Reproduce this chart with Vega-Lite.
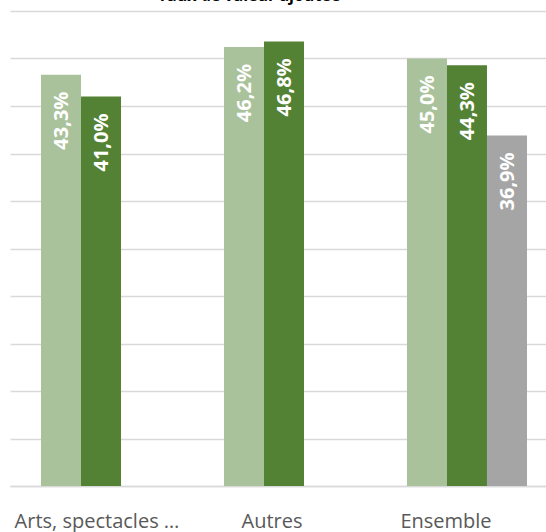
{
  "$schema": "https://vega.github.io/schema/vega-lite/v6.json",
  "width": 536,
  "height": 475,
  "autosize": {"type": "none"},
  "padding": {"left": 10, "top": 11, "right": 0, "bottom": 46},
  "title": {"text": "Taux de valeur ajoutée", "font": "Open Sans", "fontSize": 16, "fontWeight": "bold", "color": "#000000", "offset": 7, "anchor": "middle", "dx": -29},
  "config": {
    "view": {"stroke": null},
    "locale": {"number": {"decimal": ",", "thousands": " ", "grouping": [3], "currency": ["", " €"]}}
  },
  "data": {"values": [
    {"cat": "Arts, spectacles …", "s": "A", "v": 0.433},
    {"cat": "Arts, spectacles …", "s": "B", "v": 0.410},
    {"cat": "Autres", "s": "A", "v": 0.462},
    {"cat": "Autres", "s": "B", "v": 0.468},
    {"cat": "Ensemble", "s": "A", "v": 0.450},
    {"cat": "Ensemble", "s": "B", "v": 0.443},
    {"cat": "Ensemble", "s": "C", "v": 0.369}
  ]},
  "encoding": {
    "x": {"field": "cat", "type": "nominal", "sort": null,
      "scale": {"paddingInner": 0.344, "paddingOuter": 0.1366, "align": 0.62},
      "axis": {"title": null, "labelAngle": 0, "ticks": false, "domain": true, "domainColor": "#D9D9D9", "domainWidth": 1.3,
        "labelFont": "Open Sans", "labelFontSize": 20, "labelColor": "#595959", "labelPadding": 25,
        "labelOffset": {"condition": [{"test": "datum.value === 'Ensemble'", "value": -21}, {"test": "datum.value === 'Autres'", "value": -12}], "value": -4}}},
    "xOffset": {"field": "s", "type": "nominal", "scale": {"domain": ["A", "B", "C"]}},
    "y": {"field": "v", "type": "quantitative",
      "scale": {"domain": [0, 0.5], "nice": false},
      "axis": {"title": null, "labels": false, "ticks": false, "domain": false, "grid": true, "gridColor": "#D9D9D9", "gridWidth": 1.3,
        "values": [0, 0.05, 0.1, 0.15, 0.2, 0.25, 0.3, 0.35, 0.4, 0.45, 0.5]}}
  },
  "layer": [
    {"mark": {"type": "bar"},
     "encoding": {"color": {"field": "s", "type": "nominal", "legend": null,
       "scale": {"domain": ["A", "B", "C"], "range": ["#AAC29B", "#548235", "#A5A5A5"]}}}},
    {"mark": {"type": "text", "angle": 270, "align": "right", "baseline": "middle", "dx": -17, "dy": 1, "font": "Open Sans", "fontSize": 20, "fontWeight": "bold", "color": "#FFFFFF"},
     "encoding": {"text": {"field": "v", "type": "quantitative", "format": ".1%"}}}
  ]
}
